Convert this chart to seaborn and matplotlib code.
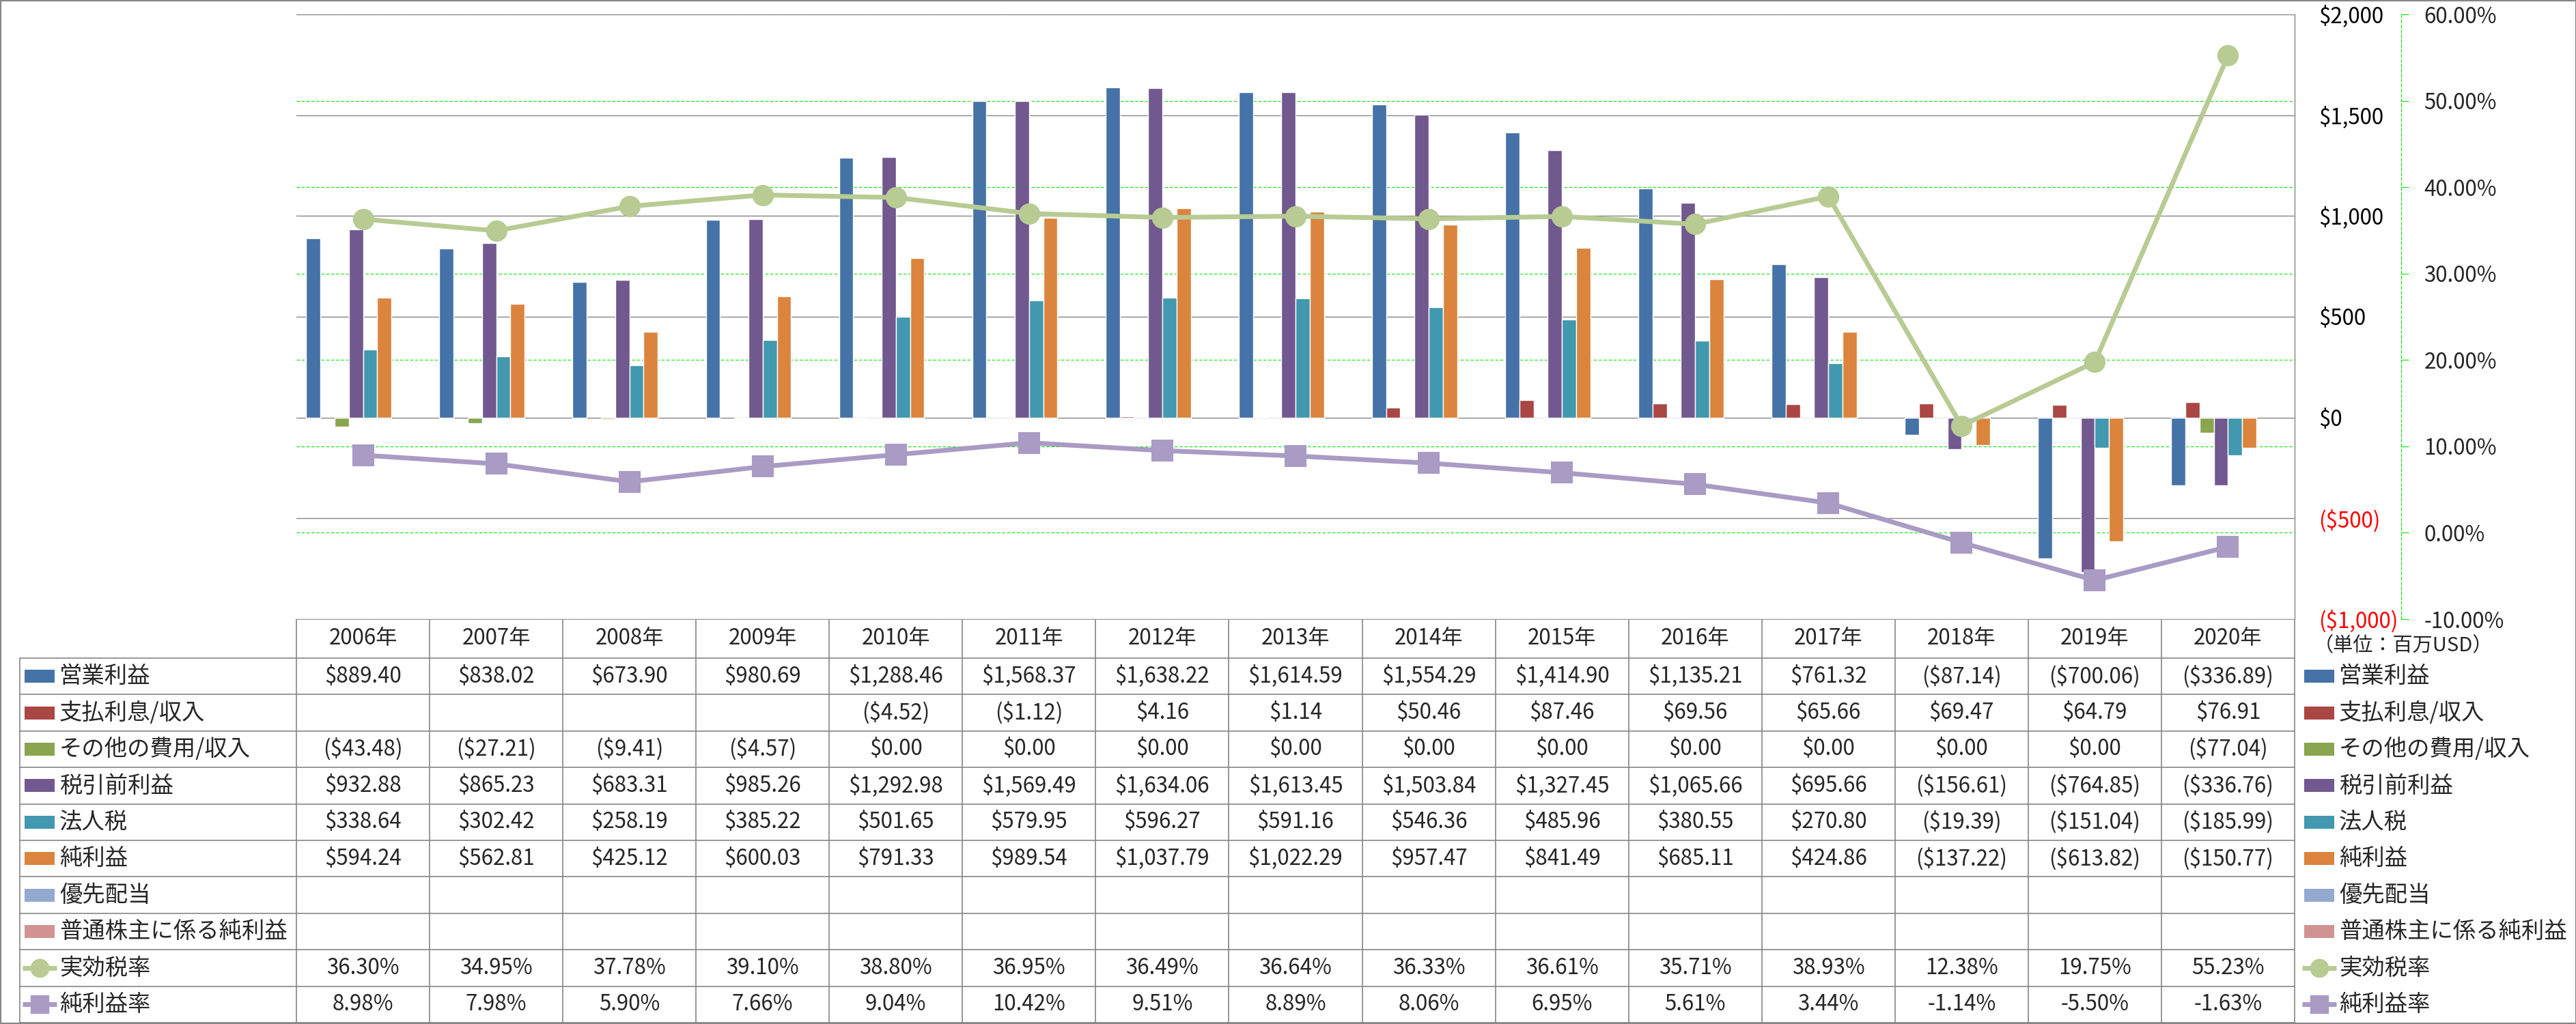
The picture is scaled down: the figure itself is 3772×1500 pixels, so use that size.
import numpy as np
import pandas as pd
import matplotlib.pyplot as plt
import seaborn as sns
from matplotlib.patches import Rectangle

sns.set_style("white")
plt.rcParams["font.family"] = ["Noto Sans CJK JP", "DejaVu Sans"]

nan = np.nan

# ---- data ----
years = ["2006年", "2007年", "2008年", "2009年", "2010年", "2011年", "2012年", "2013年",
         "2014年", "2015年", "2016年", "2017年", "2018年", "2019年", "2020年"]

operating = [889.40, 838.02, 673.90, 980.69, 1288.46, 1568.37, 1638.22, 1614.59,
             1554.29, 1414.90, 1135.21, 761.32, -87.14, -700.06, -336.89]
interest = [nan, nan, nan, nan, -4.52, -1.12, 4.16, 1.14,
            50.46, 87.46, 69.56, 65.66, 69.47, 64.79, 76.91]
other = [-43.48, -27.21, -9.41, -4.57, 0.00, 0.00, 0.00, 0.00,
         0.00, 0.00, 0.00, 0.00, 0.00, 0.00, -77.04]
pretax = [932.88, 865.23, 683.31, 985.26, 1292.98, 1569.49, 1634.06, 1613.45,
          1503.84, 1327.45, 1065.66, 695.66, -156.61, -764.85, -336.76]
tax = [338.64, 302.42, 258.19, 385.22, 501.65, 579.95, 596.27, 591.16,
       546.36, 485.96, 380.55, 270.80, -19.39, -151.04, -185.99]
net = [594.24, 562.81, 425.12, 600.03, 791.33, 989.54, 1037.79, 1022.29,
       957.47, 841.49, 685.11, 424.86, -137.22, -613.82, -150.77]
preferred = [nan] * 15
common_net = [nan] * 15

eff_rate = [36.30, 34.95, 37.78, 39.10, 38.80, 36.95, 36.49, 36.64,
            36.33, 36.61, 35.71, 38.93, 12.38, 19.75, 55.23]
margin = [8.98, 7.98, 5.90, 7.66, 9.04, 10.42, 9.51, 8.89,
          8.06, 6.95, 5.61, 3.44, -1.14, -5.50, -1.63]

bar_names = ["営業利益", "支払利息/収入", "その他の費用/収入", "税引前利益",
             "法人税", "純利益", "優先配当", "普通株主に係る純利益"]
bar_values = [operating, interest, other, pretax, tax, net, preferred, common_net]
bar_colors = ["#4572A7", "#AA4643", "#89A54E", "#71588F",
              "#4198AF", "#DB843D", "#93A9CF", "#D19392"]

line_names = ["実効税率", "純利益率"]
line_values = [eff_rate, margin]
line_colors = ["#B7CB93", "#A99BC4"]
line_markers = ["o", "s"]

money_ticks = [-1000, -500, 0, 500, 1000, 1500, 2000]
pct_ticks = [-10, 0, 10, 20, 30, 40, 50, 60]


def money(v, dec=2):
    if pd.isna(v):
        return ""
    s = f"${abs(v):,.{dec}f}"
    return f"({s})" if v < 0 else s


def pct(v):
    return "" if pd.isna(v) else f"{v:.2f}%"


# ---- layout (pixels) ----
W, H = 3773, 1500
L, R, T, B = 434, 3360, 21, 907
GRAY = "#868686"
GREEN = "#00E800"
FS = 22.5

fig = plt.figure(figsize=(W / 100, H / 100), dpi=100)

# overlay for the data table and legend
tab = fig.add_axes([0, 0, 1, 1])
tab.set_xlim(0, W)
tab.set_ylim(H, 0)
tab.axis("off")

ax = fig.add_axes([L / W, 1 - B / H, (R - L) / W, (B - T) / H])

wide = pd.DataFrame(dict(zip(bar_names, bar_values)), index=years)
long = wide.reset_index(names="年").melt(id_vars="年", var_name="項目", value_name="金額")

sns.barplot(data=long, x="年", y="金額", hue="項目", order=years, hue_order=bar_names,
            palette=dict(zip(bar_names, bar_colors)), width=0.853, saturation=1,
            errorbar=None, legend=False, ax=ax, zorder=2)

lo1, hi1 = -1000, 2000
lo2, hi2 = -10, 60
ax.set_ylim(lo1, hi1)
ax.set_xlim(-0.5, len(years) - 0.5)

# gridlines: primary gray, secondary green dashed (behind the bars)
for v in money_ticks:
    ax.axhline(v, color=GRAY, lw=1.0, zorder=1)
for p in pct_ticks:
    y = lo1 + (p - lo2) / (hi2 - lo2) * (hi1 - lo1)
    ax.axhline(y, color=GREEN, lw=0.8, ls=(0, (4, 2.5)), zorder=0.9)

ax2 = ax.twinx()
xpos = np.arange(len(years))
for name, vals, col, mk in zip(line_names, line_values, line_colors, line_markers):
    sns.lineplot(x=xpos, y=vals, ax=ax2, color=col, linewidth=5, marker=mk,
                 markersize=21, markerfacecolor=col, markeredgecolor=col,
                 markeredgewidth=1.5, legend=False)
ax2.set_ylim(lo2, hi2)
ax.set_xlim(-0.5, len(years) - 0.5)

# primary axis on the right
ax.yaxis.tick_right()
ax.set_yticks(money_ticks)
ax.set_yticklabels([money(v, 0) for v in money_ticks])
ax.tick_params(axis="y", length=0, pad=25, labelsize=FS, left=False, labelleft=False,
               right=True, labelright=True)
ax.tick_params(axis="x", length=0, labelbottom=False)
ax.set_xlabel("")
ax.set_ylabel("")
for lbl, v in zip(ax.get_yticklabels(), money_ticks):
    lbl.set_color("red" if v < 0 else "black")
for s in ["top", "left", "bottom"]:
    ax.spines[s].set_visible(False)
ax.spines["right"].set_color(GRAY)
ax.spines["right"].set_linewidth(1.0)

# secondary axis
ax2.set_yticks(pct_ticks)
ax2.set_yticklabels([pct(v) for v in pct_ticks])
ax2.tick_params(axis="y", length=8, width=0.8, color=GREEN, pad=16, labelsize=FS,
                direction="out")
for lbl, v in zip(ax2.get_yticklabels(), pct_ticks):
    lbl.set_color("red" if v < 0 else "black")
for s in ["top", "left", "bottom"]:
    ax2.spines[s].set_visible(False)
ax2.spines["right"].set_position(("outward", 112.3))
ax2.spines["right"].set_color(GREEN)
ax2.spines["right"].set_linewidth(0.8)
ax2.spines["right"].set_linestyle((0, (4, 2.5)))
ax2.set_ylabel("")

# ---- data table ----
rows = [(n, "bar", c, v, money) for n, c, v in zip(bar_names, bar_colors, bar_values)]
rows += [(n, mk, c, v, pct) for n, c, v, mk in zip(line_names, line_colors, line_values, line_markers)]

colw = (R - L) / len(years)
hdr_top, hdr_bot = 907, 964
row_h = (1498 - hdr_bot) / len(rows)
bottom = hdr_bot + row_h * len(rows)
lab_left = 29

tab.plot([L, R], [hdr_top, hdr_top], color=GRAY, lw=1.2)
for k in range(len(rows) + 1):
    y = hdr_bot + k * row_h
    tab.plot([lab_left, R], [y, y], color=GRAY, lw=1.2)
for i in range(len(years) + 1):
    x = L + i * colw
    tab.plot([x, x], [hdr_top, bottom], color=GRAY, lw=1.2)
tab.plot([lab_left, lab_left], [hdr_bot, bottom], color=GRAY, lw=1.2)

for i, yr in enumerate(years):
    tab.text(L + (i + 0.5) * colw, (hdr_top + hdr_bot) / 2, yr, ha="center",
             va="center", fontsize=FS)


def legend_key(x0, yc, kind, col):
    if kind == "bar":
        tab.add_patch(Rectangle((x0, yc - 9.5), 44, 19, color=col, lw=0))
    else:
        tab.plot([x0 - 3, x0 + 47], [yc, yc], color=col, lw=5, solid_capstyle="butt")
        tab.plot([x0 + 22], [yc], marker=kind, ms=19, color=col)


for k, (name, kind, col, vals, fmt) in enumerate(rows):
    yc = hdr_bot + (k + 0.5) * row_h
    legend_key(36, yc, kind, col)
    tab.text(87, yc, name, ha="left", va="center", fontsize=24)
    for i, v in enumerate(vals):
        tab.text(L + (i + 0.5) * colw, yc, fmt(v), ha="center", va="center", fontsize=FS)
    # legend on the right side
    legend_key(3374, yc, kind, col)
    tab.text(3425, yc, name, ha="left", va="center", fontsize=24)

tab.text(3388, 946, "（単位：百万USD）", ha="left", va="center", fontsize=21)

# outer frame
fig.add_artist(Rectangle((0, 0), 1, 1, transform=fig.transFigure, fill=False,
                         ec="#878787", lw=3))

fig.savefig("out.png", dpi=100)
